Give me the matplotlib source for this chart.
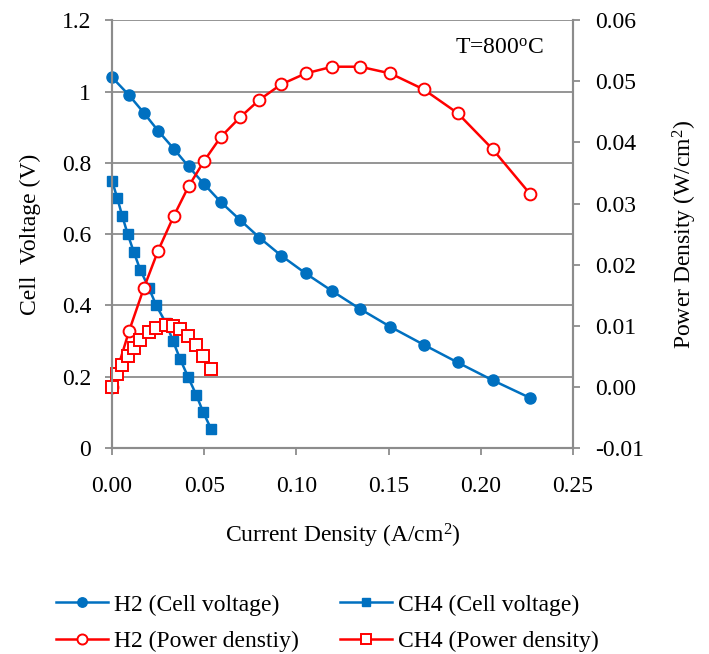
import numpy as np
import matplotlib
matplotlib.use("Agg")
import matplotlib.pyplot as plt
from matplotlib.ticker import FuncFormatter

plt.rcParams["font.family"] = ["Liberation Serif", "DejaVu Serif"]
plt.rcParams["mathtext.fontset"] = "custom"
plt.rcParams["mathtext.rm"] = "Liberation Serif"
plt.rcParams["mathtext.it"] = "Liberation Serif:italic"

# H2 fuel
h2_current = [0.0, 0.0092, 0.0173, 0.025, 0.0334, 0.0415, 0.050, 0.059, 0.0694, 0.080,
              0.0917, 0.105, 0.1195, 0.1346, 0.151, 0.169, 0.1875, 0.2065, 0.227]
h2_voltage = [1.04, 0.99, 0.94, 0.89, 0.84, 0.79, 0.74, 0.69, 0.64, 0.59,
              0.54, 0.49, 0.44, 0.39, 0.34, 0.29, 0.24, 0.19, 0.14]
h2_power = [0.0, 0.0091, 0.0162, 0.0223, 0.0279, 0.0328, 0.0370, 0.0409, 0.0441, 0.0470,
            0.0495, 0.0513, 0.0524, 0.0524, 0.0513, 0.0487, 0.0448, 0.0389, 0.0315]

# CH4 fuel
ch4_current = [0.0, 0.0029, 0.0056, 0.0085, 0.0118, 0.0153, 0.0199, 0.024, 0.0293, 0.0331,
               0.0369, 0.0412, 0.0456, 0.0495, 0.0537]
ch4_voltage = [0.75, 0.70, 0.65, 0.60, 0.55, 0.50, 0.45, 0.40, 0.35, 0.30,
               0.25, 0.20, 0.15, 0.10, 0.054]
ch4_power = [0.0, 0.0021, 0.0036, 0.0050, 0.0064, 0.0077, 0.0090, 0.0096, 0.0102, 0.0100,
             0.0094, 0.0083, 0.0068, 0.0050, 0.0029]

BLUE = "#0070C0"
RED = "#FF0000"
GRAY = "#8C8C8C"
FS = 17

fig = plt.figure(figsize=(7.09, 6.54), dpi=100)
ax = fig.add_axes([0.158, 0.315, 0.65, 0.654])
ax2 = ax.twinx()

l1, = ax.plot(h2_current, h2_voltage, color=BLUE, lw=1.8, marker="o", ms=8,
              label="H2 (Cell voltage)")
l2, = ax.plot(ch4_current, ch4_voltage, color=BLUE, lw=1.8, marker="s", ms=7,
              label="CH4 (Cell voltage)")
l3, = ax2.plot(h2_current, h2_power, color=RED, lw=1.8, marker="o", ms=8.5,
               mfc="white", mec=RED, mew=1.4, label="H2 (Power denstiy)")
l4, = ax2.plot(ch4_current, ch4_power, color=RED, lw=1.8, marker="s", ms=8.5,
               mfc="white", mec=RED, mew=1.4, label="CH4 (Power density)")
for l in (l1, l2, l3, l4):
    l.set_clip_on(False)

ax.set_xlim(0, 0.25)
ax.set_ylim(0, 1.2)
ax2.set_ylim(-0.01, 0.06)
ax.set_xticks(np.arange(0, 0.2501, 0.05))
ax.set_yticks(np.arange(0, 1.2001, 0.2))
ax2.set_yticks(np.arange(-0.01, 0.0601, 0.01))
ax.xaxis.set_major_formatter(FuncFormatter(lambda v, p: f"{v:.2f}"))
ax.yaxis.set_major_formatter(FuncFormatter(lambda v, p: f"{round(v, 1):g}"))
ax2.yaxis.set_major_formatter(FuncFormatter(lambda v, p: f"{v:.2f}"))

ax.grid(axis="y", color=GRAY, lw=1.3)
ax.set_axisbelow(True)
for a in (ax, ax2):
    for side, sp in a.spines.items():
        sp.set_color(GRAY)
        sp.set_linewidth(1.5)
    a.spines["top"].set_visible(False)
ax.tick_params(axis="both", colors=GRAY, labelcolor="black", labelsize=FS,
               length=5, width=1.3)
ax.tick_params(axis="y", pad=10)
ax.tick_params(axis="x", pad=15)
ax2.tick_params(axis="y", colors=GRAY, labelcolor="black", labelsize=FS,
                length=5, width=1.3, pad=11)

ax.set_xlabel("Current Density (A/cm$^2$)", fontsize=FS, labelpad=18)
ax.set_ylabel("Cell  Voltage (V)", fontsize=FS, labelpad=15)
ax2.set_ylabel("Power Density (W/cm$^2$)", fontsize=FS, labelpad=19)

ax.text(0.84, 0.935, "T=800$^{\\mathrm{o}}$C", transform=ax.transAxes,
        fontsize=FS, ha="center", va="center")

fig.legend(handles=[l1, l3, l2, l4], ncol=2, loc="center",
           bbox_to_anchor=(0.462, 0.047), frameon=False, fontsize=FS,
           handlelength=2.2, handletextpad=0.25, columnspacing=1.75,
           labelspacing=0.65, borderaxespad=0, markerscale=0.85)

fig.savefig("out.png", dpi=100)
